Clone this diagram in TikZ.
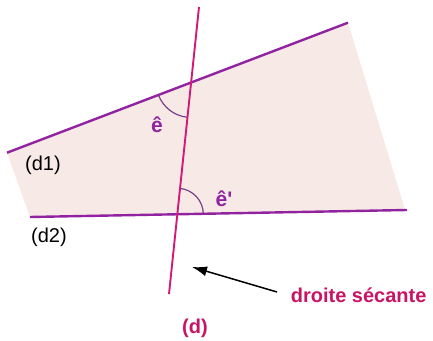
\documentclass[tikz,border=0pt]{standalone}
\usepackage{fontspec}
\setmainfont{Liberation Sans}
\usetikzlibrary{angles,arrows.meta}
\definecolor{violet}{RGB}{145,35,160}
\definecolor{rose}{RGB}{210,25,120}
\definecolor{cramoisi}{RGB}{200,20,100}
\definecolor{fond}{RGB}{247,234,230}
\definecolor{arcc}{RGB}{120,65,135}
\begin{document}
\begin{tikzpicture}[x=1pt, y=1pt,
  droite/.style={violet, line width=2.4pt},
  secante/.style={rose, line width=1.9pt},
  arcangle/.style={draw=arcc, line width=1.2pt},
  lbl/.style={font=\fontsize{20}{24}\selectfont},
  angl/.style={violet, font=\bfseries\fontsize{21}{25}\selectfont}]
\useasboundingbox (0, 0) rectangle (433, 340);
\coordinate (A1) at (7, 187.3);
\coordinate (A2) at (348, 317.3);
\coordinate (B1) at (30, 123);
\coordinate (B2) at (407, 130);
\coordinate (F) at (405, 130.5);
\coordinate (D1) at (199, 333);
\coordinate (D2) at (169, 46);
\coordinate (I1) at (intersection of A1--A2 and D1--D2);
\coordinate (I2) at (intersection of B1--B2 and D1--D2);
\fill[fond] (A1) -- (A2) -- (F) -- (B1) -- cycle;
\pic[arcangle, angle radius=35pt] {angle = A1--I1--D2};
\pic[arcangle, angle radius=26pt] {angle = B2--I2--D1};
\draw[droite] (A1) -- (A2);
\draw[droite] (B1) -- (B2);
\draw[secante] (D1) -- (D2);
\node[lbl] (d1) at (43, 175) {(d1)};
\node[lbl] (d2) at (49, 103) {(d2)};
\node[angl] (e) at (157, 215) {ê};
\node[angl] (ep) at (224, 141) {ê\textquotesingle};
\node[cramoisi, font=\bfseries\fontsize{20}{24}\selectfont, anchor=east] (sec) at (430, 45) {droite sécante};
\node[cramoisi, font=\bfseries\fontsize{20}{24}\selectfont] (d) at (195, 12) {(d)};
\coordinate (fl) at (277, 48);
\coordinate (pt) at (192, 73);
\draw[-{Latex[length=15pt,width=10pt]}, line width=1.5pt] (fl) -- (pt);
\end{tikzpicture}
\end{document}
